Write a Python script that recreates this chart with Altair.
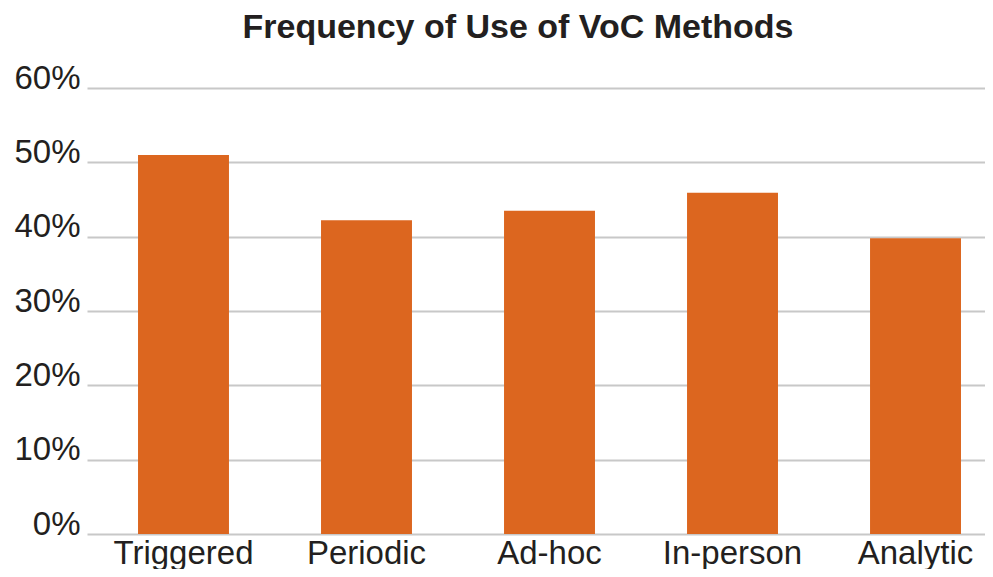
import altair as alt
import pandas as pd

methods = ["Triggered", "Periodic", "Ad-hoc", "In-person", "Analytic"]
shares = [0.510, 0.422, 0.435, 0.459, 0.398]
y_ticks = [0, 0.1, 0.2, 0.3, 0.4, 0.5, 0.6]

df = pd.DataFrame({"method": methods, "share": shares})

FONT = "Liberation Sans"
TXT = "#231f20"

chart = alt.Chart(df).mark_bar(color="#dc661f").encode(
    x=alt.X("method:N", sort=methods, title=None,
            scale=alt.Scale(paddingInner=0.503, paddingOuter=0.205, align=0.68),
            axis=alt.Axis(labelAngle=0, ticks=False, domain=False, labelFont=FONT,
                          labelFontSize=33, labelColor=TXT, labelPadding=3)),
    y=alt.Y("share:Q", title=None,
            scale=alt.Scale(domain=[0, 0.6], nice=False, zero=True),
            axis=alt.Axis(values=y_ticks, format=".0%", ticks=False, domain=False,
                          grid=True, gridColor="#c8c8c8", gridWidth=2,
                          labelFont=FONT, labelFontSize=33, labelColor=TXT,
                          labelBaseline="alphabetic", labelPadding=7)),
).properties(
    width=898,
    height=446,
    title=alt.TitleParams("Frequency of Use of VoC Methods", font=FONT, fontSize=34,
                          fontWeight="bold", color=TXT, anchor="middle", dx=-18, offset=17),
    autosize=alt.AutoSizeParams(type="none"),
    padding={"left": 79, "top": 80, "right": 0, "bottom": 35},
).configure_view(stroke=None)

chart.save("out.html", embed_options={"renderer": "svg", "actions": False})
